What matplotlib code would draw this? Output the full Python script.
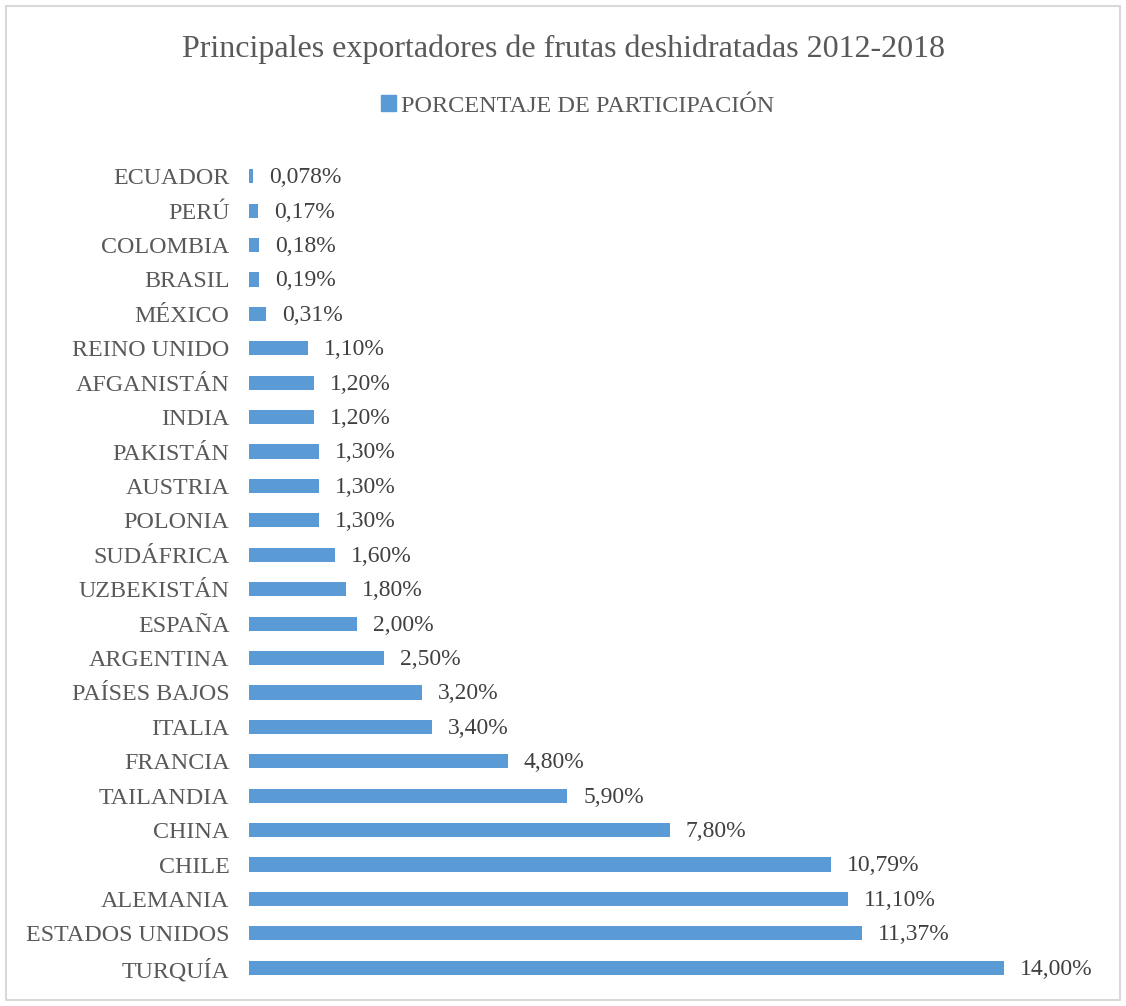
import matplotlib.pyplot as plt
from matplotlib.patches import Rectangle, Patch

plt.rcParams['font.family'] = ['Liberation Serif', 'DejaVu Serif']

# data, bottom bar first
paises = ['TURQUÍA', 'ESTADOS UNIDOS', 'ALEMANIA', 'CHILE', 'CHINA', 'TAILANDIA',
          'FRANCIA', 'ITALIA', 'PAÍSES BAJOS', 'ARGENTINA', 'ESPAÑA', 'UZBEKISTÁN',
          'SUDÁFRICA', 'POLONIA', 'AUSTRIA', 'PAKISTÁN', 'INDIA', 'AFGANISTÁN',
          'REINO UNIDO', 'MÉXICO', 'BRASIL', 'COLOMBIA', 'PERÚ', 'ECUADOR']
participacion = [14.00, 11.37, 11.10, 10.79, 7.80, 5.90, 4.80, 3.40, 3.20, 2.50, 2.00, 1.80,
                 1.60, 1.30, 1.30, 1.30, 1.20, 1.20, 1.10, 0.31, 0.19, 0.18, 0.17, 0.078]
etiquetas = ['14,00%', '11,37%', '11,10%', '10,79%', '7,80%', '5,90%', '4,80%', '3,40%',
             '3,20%', '2,50%', '2,00%', '1,80%', '1,60%', '1,30%', '1,30%', '1,30%',
             '1,20%', '1,20%', '1,10%', '0,31%', '0,19%', '0,18%', '0,17%', '0,078%']

azul = '#5B9BD5'
gris = '#595959'

fig = plt.figure(figsize=(11.26, 10.06), dpi=100)
# light border around the chart
fig.patches.append(Rectangle((6/1126, 6/1006), 1114/1126, 994/1006, transform=fig.transFigure,
                             fill=False, edgecolor='#d9d9d9', linewidth=1.5))

ax = fig.add_axes([249/1126, 1 - 985/1006, 863/1126, 826/1006])
y = range(len(paises))
ax.barh(y, participacion, height=0.41, color=azul)
for yi, v, t in zip(y, participacion, etiquetas):
    ax.annotate(t, (v, yi), xytext=(11.5, -1), textcoords='offset points',
                va='center', ha='left', fontsize=17, color='#404040')

ax.set_xlim(0, 16)
ax.set_ylim(-0.5, len(paises) - 0.5)
ax.set_yticks(list(y))
ax.set_yticklabels(paises, fontsize=17.3, color=gris)
ax.tick_params(axis='y', length=0, pad=14)
ax.set_xticks([])
for s in ax.spines.values():
    s.set_visible(False)

fig.text(0.5, 1 - 49/1006, 'Principales exportadores de frutas deshidratadas 2012-2018',
         ha='center', va='center', fontsize=23, color=gris)
fig.legend(handles=[Patch(color=azul, label='PORCENTAJE DE PARTICIPACIÓN')],
           loc='center', bbox_to_anchor=(0.513, 1 - 106/1006), frameon=False,
           fontsize=17.5, labelcolor=gris, handlelength=0.65, handleheight=0.65,
           handletextpad=0.2)

fig.savefig('out.png', dpi=100)
